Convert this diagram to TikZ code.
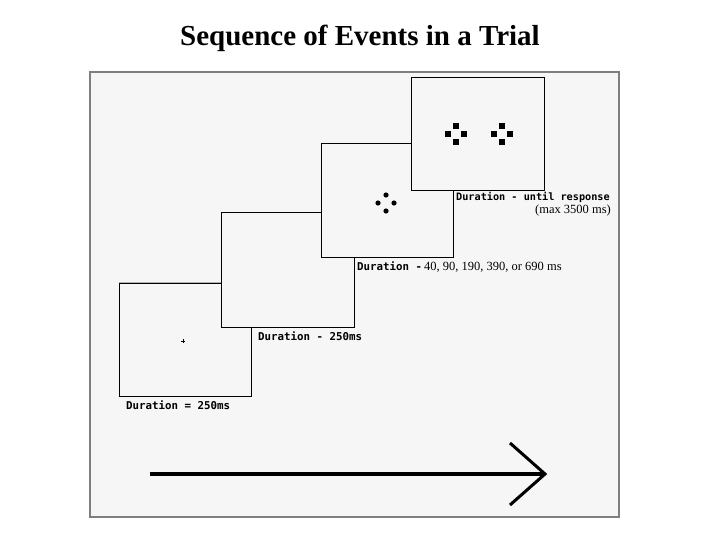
\documentclass[tikz,border=0pt]{standalone}
\usepackage{fontspec}
\setmainfont{Liberation Serif}
\newfontfamily\pixfont{DejaVu Sans Mono}
\definecolor{bgc}{HTML}{F6F6F6}
\definecolor{edge}{HTML}{7F7F7F}
\begin{document}
\begin{tikzpicture}[x=1pt,y=-1pt,
  panel/.style={draw=edge, fill=bgc, line width=1.6pt, inner sep=0pt},
  screen/.style={draw=black, fill=bgc, line width=1pt, inner sep=0pt},
  pix/.style={font=\pixfont\bfseries\fontsize{10.8}{12}\selectfont, inner sep=0pt, anchor=base west},
  serif/.style={font=\fontsize{12.5}{14}\selectfont, inner sep=0pt, anchor=base west},
  sq/.style={fill=black},
  dot/.style={fill=black}]
\useasboundingbox (0,0) rectangle (720,540);
\fill[white] (0,0) rectangle (720,540);
\node[font=\bfseries\fontsize{29}{32}\selectfont] (title) at (360,38) {Sequence of Events in a Trial};
\node[panel, minimum width=529pt, minimum height=445pt] (panel) at (354.5,294.5) {};
% screens
\node[screen, minimum width=132pt, minimum height=113pt] (f1) at (185,339.5) {};
\draw[edge!60, line width=1pt] (f1.north west) -- (f1.north east);
\node[screen, minimum width=133pt, minimum height=114pt] (f2) at (287.5,270) {};
\node[screen, minimum width=132pt, minimum height=113pt] (f3) at (387,200.5) {};
\node[screen, minimum width=133pt, minimum height=113pt] (f4) at (477.5,134.5) {};
% fixation
\draw[line width=0.7pt] (181,341) -- (185,341) (183,339) -- (183,343);
% dots
\foreach \dx/\dy in {0/-8,0/8,-8/0,8/0}
  \fill[dot] (386+\dx,203+\dy) circle (2.6);
% squares
\foreach \cx in {456,502}
  \foreach \dx/\dy in {0/-8,0/8,-8/0,8/0}
    \fill[sq] (\cx+\dx-2.6,134+\dy-2.6) rectangle ++(5.2,5.2);
% labels
\node[pix] (l1) at (126,409) {Duration = 250ms};
\node[pix] (l2) at (258,340) {Duration - 250ms};
\node[pix] (l3) at (357,270) {Duration -};
\node[serif] (l3b) at (424,270) {40, 90, 190, 390, or 690 ms};
\node[pix, font=\pixfont\bfseries\fontsize{10.2}{12}\selectfont] (l4) at (456,201) {Duration - until response};
\node[serif, anchor=base east] (l4b) at (611,214) {(max 3500 ms)};
% time arrow
\coordinate (a0) at (150,474);
\coordinate (a1) at (545,474);
\coordinate (t1) at (510,443);
\coordinate (t2) at (510,505);
\draw[line width=4pt] (a0) -- ([xshift=-2pt]a1);
\draw[line width=3pt, line join=miter] (t1) -- (a1) -- (t2);
\end{tikzpicture}
\end{document}
